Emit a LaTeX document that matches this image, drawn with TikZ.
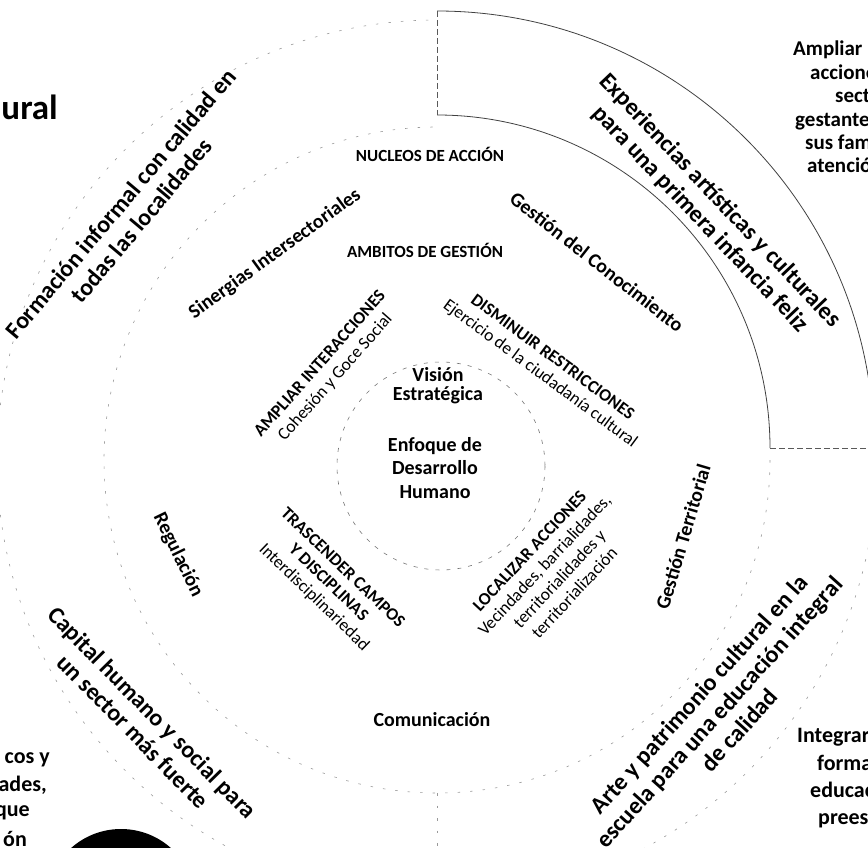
\documentclass[tikz,border=0pt]{standalone}
\usepackage{fontspec}
\setmainfont{Carlito}
\begin{document}
\begin{tikzpicture}[x=1pt,y=-1pt,
  every node/.style={inner sep=0pt, align=center},
  outertxt/.style={font=\bfseries\fontsize{24}{27}\selectfont},
  midtxt/.style={font=\bfseries\fontsize{20}{22}\selectfont},
  captxt/.style={font=\bfseries\fontsize{17}{20}\selectfont},
  innertxt/.style={font=\fontsize{17.5}{20.5}\selectfont},
  ctrtxt/.style={font=\bfseries\fontsize{20}{23.5}\selectfont},
  edgetxt/.style={font=\bfseries\fontsize{21}{23.4}\selectfont},
  edgetxtb/.style={font=\bfseries\fontsize{22}{24}\selectfont},
  titletxt/.style={font=\bfseries\fontsize{35}{40}\selectfont},
  ring/.style={draw=black!40, line width=0.6pt, dash pattern=on 2.5pt off 10pt},
  innerring/.style={draw=black!55, line width=0.6pt, dash pattern=on 4pt off 7pt},
  secarc/.style={draw=black!75, line width=0.8pt},
  secside/.style={draw=black!65, line width=0.8pt, dash pattern=on 6pt off 3pt}
]
\useasboundingbox (0,0) rectangle (868,848);

% faint rings
\draw[ring] (437,460) ++(0:333) arc[start angle=0, end angle=270, radius=333];
\draw[ring] (437,460) ++(0:440) arc[start angle=0, end angle=270, radius=440];
\draw[ring] (437,793) -- (437,850);
\draw[innerring] (441,466) circle[radius=104];

% highlighted sector (top right)
\draw[secarc] (437,115) arc[start angle=-90, end angle=0, radius=333];
\draw[secarc] (874,448) arc[start angle=0, end angle=-90, radius=437];
\draw[secside] (437,11) -- (437,115);
\draw[secside] (770,448) -- (874,448);

% black disc bottom left
\fill (121,904) circle[radius=75];

% title fragment
\node[titletxt, anchor=base east] (title) at (58,120) {ural};

% outer ring texts
\node[outertxt, rotate=50] (formacion) at (131,212) {Formación informal con calidad en\\todas las localidades};
\node[outertxt, rotate=-46.5] (experiencias) at (710,210) {Experiencias artísticas y culturales\\para una primera infancia feliz};
\node[outertxt, rotate=48] (arte) at (719,712) {Arte y patrimonio cultural en la\\escuela para una educación integral\\de calidad};
\node[outertxt, rotate=-45.5] (capital) at (143,722) {Capital humano y social para\\un sector más fuerte};

% middle ring texts
\node[captxt] (nucleos) at (430,154) {NUCLEOS DE ACCIÓN};
\node[captxt] (ambitos) at (425,250) {AMBITOS DE GESTIÓN};
\node[midtxt, rotate=36] (sinergias) at (275,254) {Sinergias Intersectoriales};
\node[midtxt, rotate=-38] (conocimiento) at (597,262) {Gestión del Conocimiento};
\node[midtxt, rotate=73.5] (territorial) at (683,537) {Gestión Territorial};
\node[midtxt, rotate=-64] (regulacion) at (178,555) {Regulación};
\node[midtxt] (comunicacion) at (432,720) {Comunicación};

% inner ring texts
\node[innertxt, rotate=48.5] (ampliar) at (328,371) {\textbf{AMPLIAR INTERACCIONES}\\Cohesión y Goce Social};
\node[innertxt, rotate=-36.5] (disminuir) at (546,366) {\textbf{DISMINUIR RESTRICCIONES}\\Ejercicio de la ciudadanía cultural};
\node[innertxt, rotate=-44] (trascender) at (328,583) {\textbf{TRASCENDER CAMPOS}\\\textbf{Y DISCIPLINAS}\\Interdisciplinariedad};
\node[innertxt, rotate=47] (localizar) at (552,572) {\textbf{LOCALIZAR ACCIONES}\\Vecindades, barrialidades,\\territorialidades y\\territorialización};

% centre
\node[ctrtxt, font=\bfseries\fontsize{20}{19}\selectfont] (vision) at (438,386) {Visión\\Estratégica};
\node[ctrtxt] (enfoque) at (435,468) {Enfoque de\\Desarrollo\\Humano};

% right edge text (cut by the frame)
\node[edgetxt, anchor=base west] (amp1) at (793,56) {Ampliar};
\node[edgetxt, anchor=base west] (amp2) at (810,79.4) {acciones};
\node[edgetxt, anchor=base west] (amp3) at (835,102.8) {sector};
\node[edgetxt, anchor=base west] (amp4) at (795,126.2) {gestantes};
\node[edgetxt, anchor=base west] (amp5) at (805,149.6) {sus familias};
\node[edgetxt, anchor=base west] (amp6) at (807,173) {atención};

% bottom right text (cut by the frame)
\node[edgetxtb, anchor=base west] (int1) at (797,742) {Integrar};
\node[edgetxtb, anchor=base west] (int2) at (817,770) {formación};
\node[edgetxtb, anchor=base west] (int3) at (810,797) {educación};
\node[edgetxtb, anchor=base west] (int4) at (818,824) {preescolar};

% bottom left text (cut by the frame)
\node[edgetxtb, anchor=base east] (bl1) at (50,763) {cos y};
\node[edgetxtb, anchor=base east] (bl2) at (47,791) {ades,};
\node[edgetxtb, anchor=base east] (bl3) at (30,816) {que};
\node[edgetxtb, anchor=base east] (bl4) at (27,846) {ón};
\end{tikzpicture}
\end{document}
